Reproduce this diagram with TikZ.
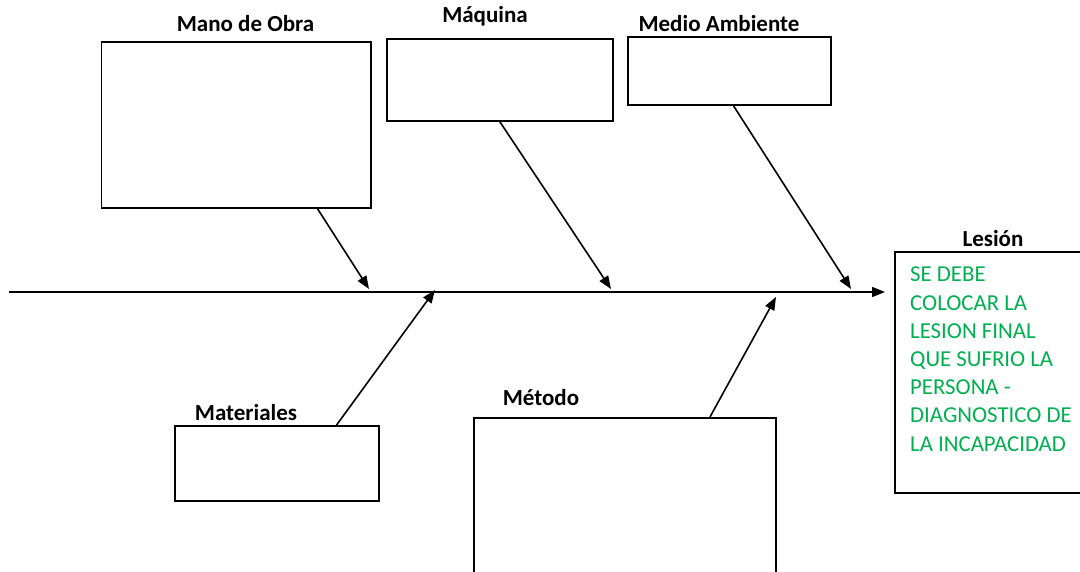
\documentclass[tikz,border=0pt]{standalone}
\usepackage{fontspec}
\setmainfont{Carlito}
\usetikzlibrary{arrows.meta,calc}
\definecolor{lesiongreen}{RGB}{0,176,80}

\begin{document}
\begin{tikzpicture}[x=1pt, y=-1pt,
        box/.style={draw, line width=1.8pt, rectangle, anchor=north west, inner sep=0pt},
        title/.style={font=\fontsize{23}{27}\selectfont\bfseries, anchor=base, inner sep=0pt},
        cause/.style={line width=1.6pt, -{Triangle[length=13pt,width=10pt]}}]
        \useasboundingbox (0,0) rectangle (1080,572);
        \clip (0,0) rectangle (1080,572);

        \node (obra) [box, minimum width=269.5pt, minimum height=166pt] at (100.5,41) {};
        \node (maq) [box, minimum width=226pt, minimum height=82pt] at (386,38) {};
        \node (amb) [box, minimum width=203pt, minimum height=68pt] at (627,36) {};
        \node (mat) [box, minimum width=204pt, minimum height=75pt] at (174,425) {};
        \node (met) [box, minimum width=302pt, minimum height=175pt] at (473,417) {};
        \node (lesion) [box, minimum width=200pt, minimum height=241pt] at (894,251) {};

        \node (t-obra) [title] at (245.5,32) {Mano de Obra};
        \node (t-maq) [title] at (485,23) {Máquina};
        \node (t-amb) [title] at (719,32) {Medio Ambiente};
        \node (t-mat) [title] at (246,420) {Materiales};
        \node (t-met) [title] at (541,405) {Método};
        \node (t-lesion) [title] at (993,247) {Lesión};

        \node (txt) [anchor=north west, inner sep=0pt, align=left, text=lesiongreen,
                font=\fontsize{22.8}{28.2}\selectfont] at (910,267)
                {SE DEBE\\COLOCAR LA\\LESION FINAL\\QUE SUFRIO LA\\PERSONA -\\DIAGNOSTICO DE\\LA INCAPACIDAD};

        \coordinate (tail) at (9,292);
        \coordinate (head) at (885,292);
        \coordinate (f-obra) at (369,289);
        \coordinate (f-maq) at (611,289);
        \coordinate (f-amb) at (851,289);
        \coordinate (f-mat) at (435,290);
        \coordinate (f-met) at (776,297);

        \draw (tail) edge [cause] (head);
        \draw ($(obra.south west)!0.8!(obra.south east)$) edge [cause] (f-obra);
        \draw ($(maq.south west)!0.5!(maq.south east)$) edge [cause] (f-maq);
        \draw ($(amb.south west)!0.52!(amb.south east)$) edge [cause] (f-amb);
        \draw ($(mat.north west)!0.79!(mat.north east)$) edge [cause] (f-mat);
        \draw ($(met.north west)!0.78!(met.north east)$) edge [cause] (f-met);
\end{tikzpicture}
\end{document}
